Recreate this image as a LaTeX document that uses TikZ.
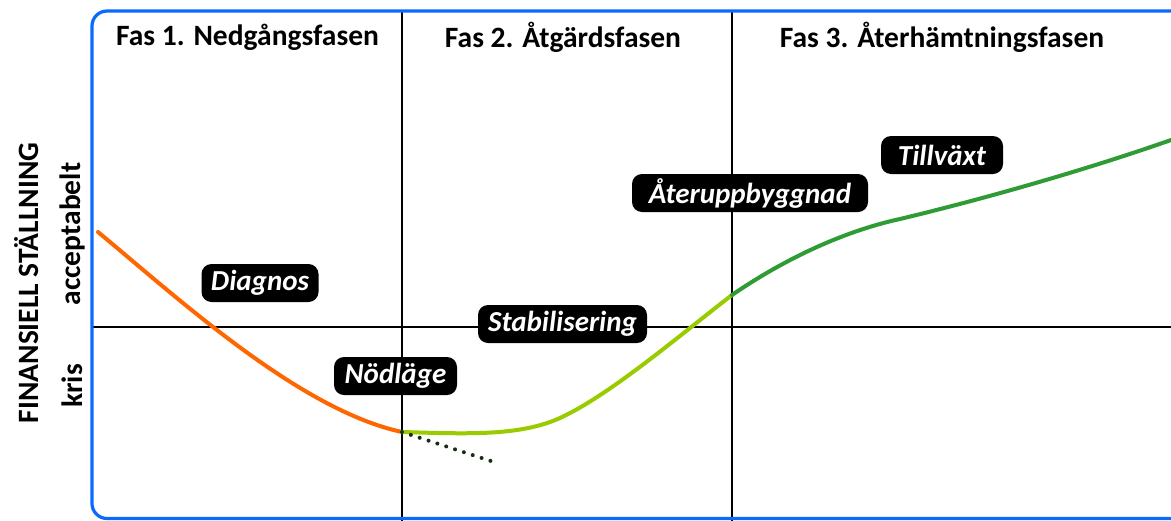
\documentclass[tikz,border=0pt]{standalone}
\usepackage{fontspec}
\setmainfont{Carlito}
\usetikzlibrary{calc}
\definecolor{frameblue}{RGB}{10,105,255}
\definecolor{fallorange}{RGB}{255,102,0}
\definecolor{stabgreen}{RGB}{153,204,0}
\definecolor{growgreen}{RGB}{46,155,52}
\definecolor{dotgreen}{RGB}{20,45,20}
\tikzset{
  phase/.style={font=\fontsize{29.5}{33}\selectfont\bfseries, inner sep=0pt, anchor=center},
  axislabel/.style={font=\fontsize{29.5}{33}\selectfont\bfseries, inner sep=0pt, rotate=90, anchor=center},
  tag/.style={fill=black, text=white, rounded corners=10pt, font=\fontsize{29}{33}\selectfont\bfseries\itshape, inner sep=0pt, minimum height=38pt, anchor=center},
  grid line/.style={draw=black, line width=2.4pt},
  curve/.style={line width=4pt, line cap=round},
}
\begin{document}
\begin{tikzpicture}[x=1pt,y=-1pt]
\useasboundingbox (0,0) rectangle (1171,520);
\clip (0,0) rectangle (1171,520);
\fill[white] (0,0) rectangle (1171,520);
% grid lines
\draw[grid line] (402,11) -- (402,530);
\draw[grid line] (732,11) -- (732,530);
\draw[grid line] (92,327) -- (1180,327);
% frame
\draw[frameblue, line width=3.2pt, rounded corners=15pt] (92,11) rectangle (1200,518.5);
% headers
\node[phase] (h1) at (247.5,37) {Fas 1. Nedgångsfasen};
\node[phase] (h2) at (563,37) {Fas 2. Åtgärdsfasen};
\node[phase] (h3) at (942,37) {Fas 3. Återhämtningsfasen};
% axis labels
\node[axislabel] (yl) at (27,283) {FINANSIELL STÄLLNING};
\node[axislabel] (acc) at (72,234) {acceptabelt};
\node[axislabel] (kris) at (72,386) {kris};
% curve points
\coordinate (c0) at (98,232);
\coordinate (c1) at (402,432);
\coordinate (c2) at (560,418);
\coordinate (c3) at (732,295);
\coordinate (c4) at (900,219);
\coordinate (c5) at (1171,140);
\coordinate (d1) at (497,463);
\draw[curve, fallorange] (c0) .. controls (180,300) and (300,410) .. (c1);
\draw[curve, stabgreen] (c1) .. controls (470,434) and (520,436) .. (c2) .. controls (610,395) and (680,335) .. (c3);
\draw[curve, growgreen] (c3) .. controls (780,262) and (840,232) .. (c4) .. controls (1000,195) and (1100,165) .. (c5) -- (1190,134);
\draw[dotgreen, line width=4pt, line cap=round, dash pattern=on 0pt off 9.3pt] (c1) -- (d1);
% tags
\node[tag, minimum width=117pt] (diag) at (260,283) {Diagnos};
\node[tag, minimum width=123pt] (nod) at (395.5,376) {Nödläge};
\node[tag, minimum width=169pt] (stab) at (562.5,324) {Stabilisering};
\node[tag, minimum width=236pt] (ater) at (750,193) {Återuppbyggnad};
\node[tag, minimum width=122pt] (till) at (942,155) {Tillväxt};
\end{tikzpicture}
\end{document}
